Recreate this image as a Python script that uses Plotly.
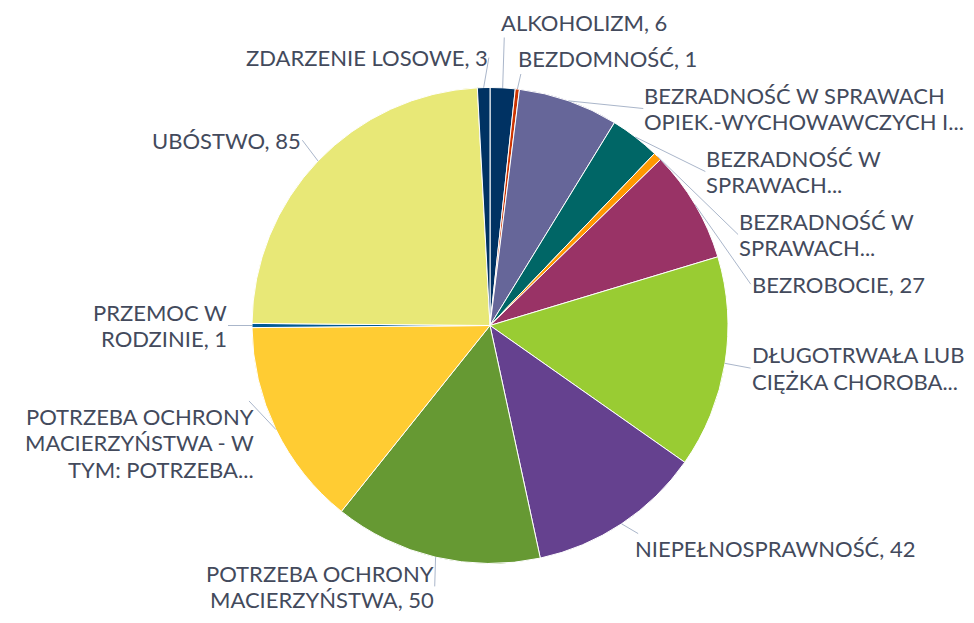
import math
import plotly.graph_objects as go

# ---------------- data ----------------
categories = [
    "ALKOHOLIZM",
    "BEZDOMNOŚĆ",
    "BEZRADNOŚĆ W SPRAWACH OPIEK.-WYCHOWAWCZYCH I PROWADZENIA GOSPODARSTWA DOMOWEGO",
    "BEZRADNOŚĆ W SPRAWACH OPIEK.-WYCH. - RODZINY NIEPEŁNE",
    "BEZRADNOŚĆ W SPRAWACH OPIEK.-WYCH. - RODZINY WIELODZIETNE",
    "BEZROBOCIE",
    "DŁUGOTRWAŁA LUB CIĘŻKA CHOROBA",
    "NIEPEŁNOSPRAWNOŚĆ",
    "POTRZEBA OCHRONY MACIERZYŃSTWA",
    "POTRZEBA OCHRONY MACIERZYŃSTWA - W TYM: POTRZEBA OCHRONY WIELODZIETNOŚCI",
    "PRZEMOC W RODZINIE",
    "UBÓSTWO",
    "ZDARZENIE LOSOWE",
]
values = [6, 1, 24, 12, 2, 27, 51, 42, 50, 50, 1, 85, 3]
label_texts = [
    ["ALKOHOLIZM, 6"],
    ["BEZDOMNOŚĆ, 1"],
    ["BEZRADNOŚĆ W SPRAWACH", "OPIEK.-WYCHOWAWCZYCH I..."],
    ["BEZRADNOŚĆ W", "SPRAWACH..."],
    ["BEZRADNOŚĆ W", "SPRAWACH..."],
    ["BEZROBOCIE, 27"],
    ["DŁUGOTRWAŁA LUB", "CIĘŻKA CHOROBA..."],
    ["NIEPEŁNOSPRAWNOŚĆ, 42"],
    ["POTRZEBA OCHRONY", "MACIERZYŃSTWA, 50"],
    ["POTRZEBA OCHRONY", "MACIERZYŃSTWA - W", "TYM: POTRZEBA..."],
    ["PRZEMOC W", "RODZINIE, 1"],
    ["UBÓSTWO, 85"],
    ["ZDARZENIE LOSOWE, 3"],
]
colors = [
    "#003263", "#cc3300", "#666699", "#006666", "#ff9900", "#993366",
    "#99cc33", "#65418f", "#669933", "#ffcc33", "#005a96", "#e8e877",
    "#003263",
]

# ---------------- layout constants (screen pixels) ----------------
W, H = 974, 623
BODY = 8.0                      # default page margin around the figure
CX, CY, R = 490.0, 325.5, 238.0
DIST = 30.0
LINE = 26.5
PAD = 10.0
TEXT_COLOR = "#434a5c"
FONT = dict(family="Lato, 'Open Sans', sans-serif", size=22, color=TEXT_COLOR)
CONN_COLOR = "#aab6ca"

total = float(sum(values))
mids = []
acc = 0.0
for v in values:
    mids.append((acc + v / 2.0) / total * 2 * math.pi)
    acc += v

RL = R + DIST
items = []
for i, th in enumerate(mids):
    n = len(label_texts[i])
    items.append(dict(
        i=i, th=th, n=n,
        side="right" if math.sin(th) >= 0 else "left",
        ty=CY - RL * math.cos(th),
        h=n * LINE + PAD,
    ))


def place(g, ymin, ymax):
    off = 0.0
    s = 0.0
    for it in g["m"]:
        s += it["ty"] - (off + it["h"] / 2.0)
        off += it["h"]
    g["h"] = off
    top = s / len(g["m"])
    g["top"] = min(max(top, ymin), ymax - off)


def distribute(its, ymin, ymax):
    its = sorted(its, key=lambda d: d["ty"])
    groups = []
    for it in its:
        g = {"m": [it]}
        place(g, ymin, ymax)
        groups.append(g)
        while len(groups) > 1 and groups[-2]["top"] + groups[-2]["h"] > groups[-1]["top"] + 1e-9:
            b = groups.pop()
            a = groups.pop()
            g = {"m": a["m"] + b["m"]}
            place(g, ymin, ymax)
            groups.append(g)
    for g in groups:
        off = g["top"]
        for it in g["m"]:
            it["y"] = off + it["h"] / 2.0
            off += it["h"]


YMIN, YMAX = 4.0, 632.0
distribute([it for it in items if it["side"] == "right"], YMIN, YMAX)
distribute([it for it in items if it["side"] == "left"], YMIN, YMAX)

annotations = []
shapes = []


def px(x):
    return (x - BODY) / W


def py(y):
    return 1 - (y - BODY) / H


for it in items:
    th = it["th"]
    dy = it["y"] - CY
    circ = math.sqrt(max(0.0, RL * RL - dy * dy))
    nat = RL * abs(math.sin(th))
    off = max(circ, nat)
    beyond = circ < nat
    right = it["side"] == "right"
    x = CX + off if right else CX - off
    ex, ey = CX + R * math.sin(th), CY - R * math.cos(th)
    if beyond:
        if dy < 0:
            ly = it["y"] + it["n"] * LINE / 2.0 + 2
        else:
            ly = it["y"] - it["n"] * LINE / 2.0 - 2
        lx = x
    else:
        ly = it["y"]
        lx = x - 4 if right else x + 6
    shapes.append(dict(type="line", xref="paper", yref="paper",
                       x0=px(ex), y0=py(ey), x1=px(lx), y1=py(ly),
                       line=dict(color=CONN_COLOR, width=1)))
    tx = x - 5 if right else x + 7
    lines = label_texts[it["i"]]
    n = len(lines)
    for k, t in enumerate(lines):
        yk = it["y"] + (k - (n - 1) / 2.0) * LINE
        annotations.append(dict(
            xref="paper", yref="paper", x=px(tx), y=py(yk),
            text=t, showarrow=False,
            xanchor="left" if right else "right", yanchor="middle",
            font=FONT,
        ))

fig = go.Figure(go.Pie(
    labels=categories,
    values=values,
    sort=False,
    direction="clockwise",
    rotation=0,
    marker=dict(colors=colors, line=dict(color="white", width=1)),
    textinfo="none",
    hoverinfo="label+value",
    showlegend=False,
    domain=dict(x=[px(CX - R), px(CX + R)], y=[py(CY + R), py(CY - R)]),
))
fig.update_layout(
    width=W, height=H,
    margin=dict(l=0, r=0, t=0, b=0),
    paper_bgcolor="white",
    plot_bgcolor="white",
    showlegend=False,
    annotations=annotations,
    shapes=shapes,
)
fig.write_html("out.html")
